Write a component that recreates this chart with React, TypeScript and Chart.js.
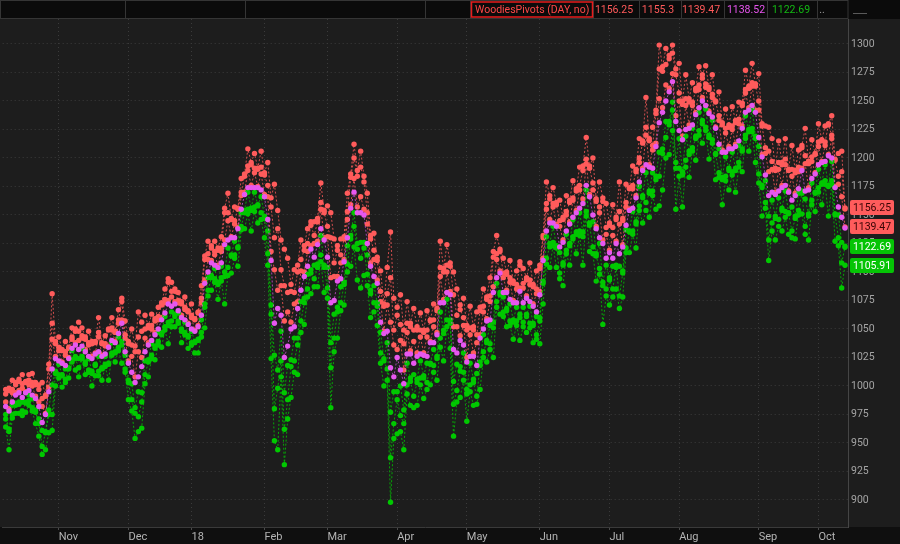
import React, { useEffect, useRef } from "react";
import { Chart, registerables } from "chart.js";

Chart.register(...registerables);

// Month tick labels and the trading-day index where each month starts
const monthLabels = ["Nov", "Dec", "18", "Feb", "Mar", "Apr", "May", "Jun", "Jul", "Aug", "Sep", "Oct"];
const monthStartIdx = [16, 37, 56, 78, 97, 118, 139, 161, 182, 203, 227, 245];

// Right axis ticks
const yTicks = [900, 925, 950, 975, 1000, 1025, 1050, 1075, 1100, 1125, 1150, 1175, 1200, 1225, 1250, 1275, 1300];

// Daily pivot point (magenta) and the prior day's high / low it is built from (Oct 2017 .. Oct 2018)
const pivot = [
  982, 978, 986, 992, 994, 990, 994, 996, 992, 989, 982, 968, 975, 995, 1015, 1024, 1022,
  1020, 1018, 1024, 1033, 1036, 1032, 1035, 1030, 1026, 1024, 1028, 1030, 1026, 1028, 1034, 1040, 1038, 1046, 1055, 1030, 1020,
  1012, 1003, 1008, 1017, 1030, 1036, 1040, 1045, 1050, 1058, 1064, 1072, 1070, 1072, 1066, 1060, 1058, 1054, 1050, 1048,
  1052, 1062, 1090, 1100, 1108, 1106, 1104, 1108, 1124, 1128, 1130, 1130, 1138, 1155, 1168, 1174, 1174, 1174, 1174, 1172, 1166,
  1146, 1110, 1055, 1068, 1062, 1025, 1035, 1050, 1052, 1068, 1084, 1096, 1105, 1120, 1113, 1124, 1138, 1128, 1113,
  1073, 1075, 1092, 1094, 1109, 1130, 1156, 1170, 1152, 1152, 1150, 1125, 1105, 1096, 1090, 1056, 1046, 1048, 1016, 1008, 1025,
  1014, 1002, 1028, 1028, 1020, 1026, 1028, 1027, 1026, 1038, 1038, 1045, 1073, 1073, 1082, 1080, 1032, 1029, 1040, 1036, 1021,
  1026, 1026, 1018, 1042, 1050, 1057, 1058, 1082, 1095, 1099, 1082, 1082, 1076, 1073, 1073, 1083, 1073, 1077, 1074, 1070, 1065, 1080,
  1110, 1136, 1143, 1143, 1140, 1122, 1126, 1136, 1142, 1148, 1152, 1156, 1160, 1176, 1166, 1150, 1138, 1130, 1125, 1112, 1117,
  1112, 1125, 1116, 1122, 1141, 1154, 1156, 1165, 1179, 1189, 1194, 1192, 1191, 1210, 1231, 1240, 1250, 1258, 1267, 1232, 1224,
  1216, 1225, 1226, 1229, 1238, 1244, 1250, 1246, 1239, 1236, 1226, 1212, 1205, 1205, 1208, 1208, 1210, 1215, 1226, 1240, 1242, 1246, 1240,
  1218, 1201, 1185, 1167, 1170, 1168, 1171, 1174, 1176, 1170, 1163, 1167, 1173, 1189, 1171, 1172, 1182, 1186, 1194,
  1196, 1197, 1202, 1200, 1174, 1157, 1148, 1138.52,
];
const high = [
  989, 994, 989, 999, 1002, 994, 1002, 1000, 995, 999, 993, 975, 990, 1011, 1029, 1035, 1025,
  1030, 1021, 1032, 1035, 1046, 1040, 1037, 1039, 1028, 1035, 1037, 1034, 1036, 1030, 1048, 1042, 1046, 1049, 1071, 1033, 1035,
  1022, 1025, 1021, 1040, 1038, 1049, 1043, 1055, 1053, 1069, 1067, 1088, 1075, 1081, 1068, 1070, 1060, 1064, 1052, 1057,
  1063, 1066, 1108, 1105, 1119, 1109, 1117, 1111, 1148, 1135, 1145, 1133, 1154, 1158, 1182, 1178, 1192, 1178, 1189, 1178, 1183,
  1156, 1149, 1083, 1122, 1076, 1056, 1052, 1077, 1062, 1094, 1094, 1115, 1112, 1138, 1120, 1141, 1144, 1150, 1122,
  1108, 1087, 1115, 1101, 1127, 1137, 1180, 1188, 1179, 1178, 1174, 1135, 1126, 1104, 1107, 1065, 1068, 1058, 1055, 1021, 1055,
  1028, 1025, 1036, 1049, 1030, 1046, 1034, 1045, 1032, 1056, 1044, 1064, 1081, 1097, 1088, 1102, 1060, 1039, 1063, 1043, 1045,
  1032, 1046, 1025, 1063, 1055, 1074, 1063, 1108, 1100, 1116, 1086, 1096, 1080, 1088, 1077, 1103, 1077, 1091, 1078, 1085, 1069, 1100,
  1128, 1141, 1161, 1146, 1157, 1127, 1144, 1139, 1159, 1150, 1169, 1160, 1185, 1180, 1189, 1156, 1160, 1135, 1159, 1118, 1139,
  1119, 1144, 1127, 1143, 1145, 1172, 1159, 1186, 1183, 1211, 1201, 1213, 1195, 1236, 1257, 1272, 1268, 1284, 1285, 1268, 1231,
  1244, 1231, 1246, 1232, 1257, 1248, 1267, 1249, 1258, 1239, 1248, 1216, 1227, 1209, 1225, 1211, 1229, 1219, 1244, 1243, 1259, 1249, 1261,
  1226, 1226, 1190, 1185, 1177, 1187, 1177, 1192, 1181, 1188, 1169, 1185, 1177, 1207, 1178, 1193, 1186, 1202, 1198,
  1214, 1200, 1228, 1203, 1197, 1164, 1170, 1154.35,
];
const low = [
  978, 976, 978, 990, 992, 982, 993, 991, 984, 987, 978, 954, 974, 991, 989, 1022, 1013,
  1019, 1009, 1023, 1025, 1034, 1024, 1028, 1028, 1016, 1022, 1027, 1017, 1025, 1021, 1033, 1031, 1037, 1037, 1052, 1018, 1018,
  998, 998, 986, 1009, 1018, 1034, 1030, 1043, 1042, 1056, 1055, 1069, 1062, 1070, 1059, 1058, 1049, 1053, 1040, 1047,
  1051, 1051, 1087, 1089, 1106, 1097, 1102, 1098, 1120, 1111, 1129, 1118, 1137, 1143, 1166, 1159, 1172, 1161, 1173, 1158, 1164,
  1126, 1102, 1008, 1052, 1036, 993, 1005, 1044, 1032, 1062, 1067, 1092, 1092, 1117, 1101, 1121, 1121, 1126, 1095,
  1051, 1054, 1088, 1080, 1107, 1114, 1153, 1158, 1147, 1138, 1145, 1108, 1102, 1081, 1087, 1038, 1044, 1025, 976, 980, 1018,
  988, 990, 1009, 1025, 1001, 1023, 1013, 1025, 1009, 1037, 1024, 1043, 1050, 1070, 1064, 1077, 1012, 1006, 1036, 1019, 1017,
  1007, 1023, 998, 1039, 1035, 1055, 1042, 1077, 1079, 1097, 1069, 1080, 1061, 1071, 1061, 1080, 1060, 1075, 1059, 1068, 1049, 1077,
  1108, 1117, 1140, 1129, 1138, 1104, 1124, 1122, 1140, 1133, 1150, 1140, 1156, 1157, 1164, 1128, 1136, 1108, 1122, 1091, 1115,
  1092, 1123, 1090, 1120, 1125, 1153, 1139, 1163, 1162, 1187, 1168, 1190, 1175, 1207, 1210, 1236, 1236, 1255, 1260, 1227, 1198,
  1213, 1204, 1223, 1212, 1236, 1228, 1247, 1230, 1237, 1219, 1225, 1191, 1203, 1188, 1206, 1191, 1208, 1200, 1224, 1223, 1240, 1229, 1238,
  1194, 1199, 1166, 1146, 1150, 1166, 1152, 1172, 1158, 1169, 1142, 1165, 1158, 1187, 1147, 1170, 1167, 1185, 1178,
  1195, 1183, 1201, 1183, 1173, 1137, 1130, 1137.57,
];

// Header study values and right-axis price badges
const studyTitle = "WoodiesPivots (DAY, no)";
const headerValues = ["1156.25", "1155.3", "1139.47", "1138.52", "1122.69"];
const headerColors = ["#ff5a5a", "#ff5a5a", "#ff5a5a", "#e955f0", "#13b813"];
const badgeValues = [1156.25, 1139.47, 1122.69, 1105.91];
const badgeKinds = ["r", "r", "g", "g"];

// Woodie's pivot levels from the pivot and the prior day's high/low
const n = Math.min(pivot.length, high.length, low.length);
const lv = { r3: [] as number[], r2: [] as number[], r1: [] as number[], s1: [] as number[], s2: [] as number[], s3: [] as number[] };
for (let i = 0; i < n; i++) {
  const p = pivot[i], h = high[i], l = low[i];
  lv.r1.push(2 * p - l);
  lv.s1.push(2 * p - h);
  lv.r2.push(p + h - l);
  lv.s2.push(p - h + l);
  lv.r3.push(h + 2 * (p - l));
  lv.s3.push(l - 2 * (h - p));
}

const RED = "#ff5b5b";
const MAG = "#e757ef";
const GRN = "#00c800";

const FONT = "Roboto, 'Open Sans', sans-serif";

const toXY = (vals: number[]) => vals.slice(0, n).map((v, i) => ({ x: i, y: v }));

const framePlugin = {
  id: "frame",
  beforeDraw(chart: any) {
    const { ctx, chartArea: ca, width, height } = chart;
    ctx.save();
    ctx.fillStyle = "#0f0f0f";
    ctx.fillRect(0, 0, width, height);
    ctx.fillStyle = "#1d1d1d";
    ctx.fillRect(0, ca.top, width, ca.bottom - ca.top);
    ctx.restore();
  },
  afterDraw(chart: any) {
    const { ctx, chartArea: ca, scales } = chart;
    ctx.save();
    // header bar
    ctx.fillStyle = "#0b0b0b";
    ctx.fillRect(0, 0, chart.width, ca.top);
    ctx.strokeStyle = "#353535";
    ctx.lineWidth = 1;
    ctx.strokeRect(0.5, 0.5, ca.right - 0.5, ca.top - 1);
    const seps = [125, 245, 425, 470, 593, 639, 681, 724, 767, 817];
    seps.forEach((x) => {
      ctx.beginPath();
      ctx.moveTo(x + 0.5, 1);
      ctx.lineTo(x + 0.5, ca.top - 1);
      ctx.stroke();
    });
    ctx.strokeStyle = "#5a5a5a";
    ctx.beginPath();
    ctx.moveTo(853, 13.5);
    ctx.lineTo(867, 13.5);
    ctx.stroke();

    ctx.strokeStyle = "#e81c1c";
    ctx.lineWidth = 1.5;
    ctx.strokeRect(471.5, 2, 121, 15);
    ctx.font = `10.5px ${FONT}`;
    ctx.textBaseline = "middle";
    ctx.textAlign = "left";
    ctx.fillStyle = "#ff4848";
    ctx.fillText(studyTitle, 475, 10);
    const centers = [614, 658, 701, 746, 791];
    ctx.textAlign = "center";
    headerValues.forEach((t, i) => {
      ctx.fillStyle = headerColors[i];
      ctx.fillText(t, centers[i], 10);
    });
    ctx.fillStyle = "#9a9a9a";
    ctx.fillText("..", 822, 10);

    // price badges on right axis
    ctx.font = `10.5px ${FONT}`;
    ctx.textAlign = "center";
    badgeValues.forEach((v, i) => {
      const y = scales.y.getPixelForValue(v);
      const red = badgeKinds[i] === "r";
      ctx.fillStyle = red ? "#ff5c5c" : "#05c405";
      const x0 = 850, w = 44, h = 15;
      const r = 2;
      const top = Math.round(y - h / 2);
      ctx.beginPath();
      ctx.moveTo(x0 + r, top);
      ctx.lineTo(x0 + w - r, top);
      ctx.quadraticCurveTo(x0 + w, top, x0 + w, top + r);
      ctx.lineTo(x0 + w, top + h - r);
      ctx.quadraticCurveTo(x0 + w, top + h, x0 + w - r, top + h);
      ctx.lineTo(x0 + r, top + h);
      ctx.quadraticCurveTo(x0, top + h, x0, top + h - r);
      ctx.lineTo(x0, top + r);
      ctx.quadraticCurveTo(x0, top, x0 + r, top);
      ctx.fill();
      ctx.fillStyle = red ? "#3a0505" : "#ffffff";
      ctx.fillText(v.toFixed(2), x0 + w / 2, top + h / 2 + 0.5);
    });
    ctx.restore();
  },
};

function series(label: string, vals: number[], dot: string, line: string, order: number) {
  return {
    label,
    data: toXY(vals),
    borderColor: line,
    borderWidth: 1,
    borderDash: [2, 2],
    pointRadius: 2.7,
    pointHoverRadius: 2.7,
    pointBackgroundColor: dot,
    pointBorderWidth: 0,
    pointBorderColor: dot,
    tension: 0,
    fill: false,
    order,
  };
}

export default function App() {
  const ref = useRef<HTMLCanvasElement | null>(null);
  useEffect(() => {
    if (!ref.current) return;
    const redLine = "rgba(255,90,90,0.8)";
    const grnLine = "rgba(0,200,0,0.8)";
    const chart = new Chart(ref.current, {
      type: "line",
      data: {
        datasets: [
          series("R3", lv.r3, RED, redLine, 8),
          series("R2", lv.r2, RED, redLine, 7),
          series("R1", lv.r1, RED, redLine, 6),
          series("S3", lv.s3, GRN, grnLine, 5),
          series("S2", lv.s2, GRN, grnLine, 4),
          series("S1", lv.s1, GRN, grnLine, 3),
          series("PP", pivot, MAG, "rgba(231,87,239,0.7)", 1),
        ] as any,
      },
      options: {
        responsive: false,
        maintainAspectRatio: false,
        animation: false,
        events: [],
        layout: { padding: { top: 19, left: 0, right: 0, bottom: 0 } },
        plugins: { legend: { display: false }, tooltip: { enabled: false } },
        scales: {
          x: {
            type: "linear",
            min: -0.9,
            max: 253.9,
            afterBuildTicks: (s: any) => {
              s.ticks = monthStartIdx.map((v) => ({ value: v }));
            },
            afterFit: (s: any) => {
              s.height = 17;
            },
            ticks: {
              autoSkip: false,
              maxRotation: 0,
              align: "start",
              padding: 1,
              color: "#b4b4b4",
              font: { family: FONT, size: 11 },
              callback: (_v: any, i: number) => monthLabels[i] ?? "",
            },
            grid: { color: "#3b3b3b", lineWidth: 1, drawTicks: true, tickLength: 3, tickColor: "#4a4a4a" },
            border: { display: true, color: "#3a3a3a", dash: [1, 3] },
          },
          y: {
            position: "right",
            min: 876.3,
            max: 1321.9,
            afterBuildTicks: (s: any) => {
              s.ticks = yTicks.map((v) => ({ value: v }));
            },
            afterFit: (s: any) => {
              s.width = 52;
            },
            ticks: {
              color: "#a4a4a4",
              font: { family: FONT, size: 10.5 },
              padding: 3,
              crossAlign: "near",
              callback: (v: any) => String(v),
            },
            grid: { color: "#3b3b3b", lineWidth: 1, drawTicks: false },
            border: { display: true, color: "#454545", dash: [1, 3] },
          },
        },
      } as any,
      plugins: [framePlugin],
    });
    return () => chart.destroy();
  }, []);
  return (
    <div style={{ position: "fixed", left: 0, top: 0, width: 900, height: 544, background: "#0f0f0f" }}>
      <canvas ref={ref} width={900} height={544} style={{ display: "block", width: 900, height: 544 }} />
    </div>
  );
}
